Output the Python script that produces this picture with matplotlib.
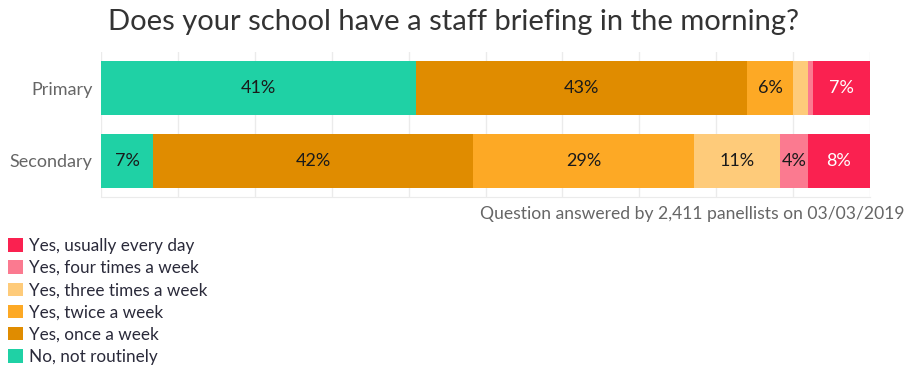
import matplotlib

matplotlib.use("Agg")
import matplotlib.pyplot as plt
from matplotlib.patches import Patch

plt.rcParams["font.family"] = ["Lato", "DejaVu Sans"]

categories = ["Secondary", "Primary"]
series_names = [
    "No, not routinely",
    "Yes, once a week",
    "Yes, twice a week",
    "Yes, three times a week",
    "Yes, four times a week",
    "Yes, usually every day",
]
# percentages per series, order matches categories (Secondary, Primary)
values = [
    [6.8, 41.0],
    [41.6, 43.0],
    [28.7, 6.0],
    [11.2, 2.0],
    [3.6, 0.6],
    [8.1, 7.4],
]
colors = ["#1fd1a5", "#e08c00", "#fda925", "#fecb7a", "#fb7a90", "#fa2150"]
label_colors = ["#1a1a1a", "#1a1a1a", "#1a1a1a", "#1a1a1a", "#1a1a1a", "#ffffff"]

fig = plt.figure(figsize=(9.08, 3.67), dpi=100)
ax = fig.add_axes([101 / 908, 1 - 197 / 367, 769 / 908, 145 / 367])

left = [0.0] * len(categories)
for name, vals, color, tcol in zip(series_names, values, colors, label_colors):
    ax.barh(range(len(categories)), vals, left=left, height=0.74, color=color,
            edgecolor="none", zorder=2)
    for i, v in enumerate(vals):
        if v >= 3:
            ax.text(left[i] + v / 2, i, f"{round(v)}%", ha="center", va="center",
                    fontsize=13, color=tcol, zorder=3)
    left = [l + v for l, v in zip(left, vals)]

ax.set_xlim(0, 100)
ax.set_ylim(-0.5, 1.5)
ax.set_xticks(range(0, 101, 10))
ax.set_xticklabels([])
ax.tick_params(axis="x", length=0)
ax.tick_params(axis="y", length=0, pad=6, labelsize=13, labelcolor="#666666")
ax.set_yticks(range(len(categories)))
ax.set_yticklabels(categories)
ax.grid(axis="x", color="#ebebeb", linewidth=1, zorder=0)
for side in ["top", "right", "left"]:
    ax.spines[side].set_visible(False)
ax.spines["bottom"].set_color("#ebebeb")

fig.text(454 / 908, 1 - 22 / 367, "Does your school have a staff briefing in the morning?",
         ha="center", va="center", fontsize=21, color="#333333")
fig.text(905 / 908, 1 - 214 / 367, "Question answered by 2,411 panellists on 03/03/2019",
         ha="right", va="center", fontsize=12.6, color="#666666")

handles = [Patch(facecolor=c, edgecolor="none") for c in colors][::-1]
fig.legend(handles, series_names[::-1], loc="upper left",
           bbox_to_anchor=(-0.004, 1 - 226 / 367), frameon=False,
           fontsize=12.3, labelcolor="#2a2a3a", handlelength=0.85,
           handleheight=0.85, handletextpad=0.35, labelspacing=0.36,
           borderpad=0.2)

fig.savefig("out.png", dpi=100)
